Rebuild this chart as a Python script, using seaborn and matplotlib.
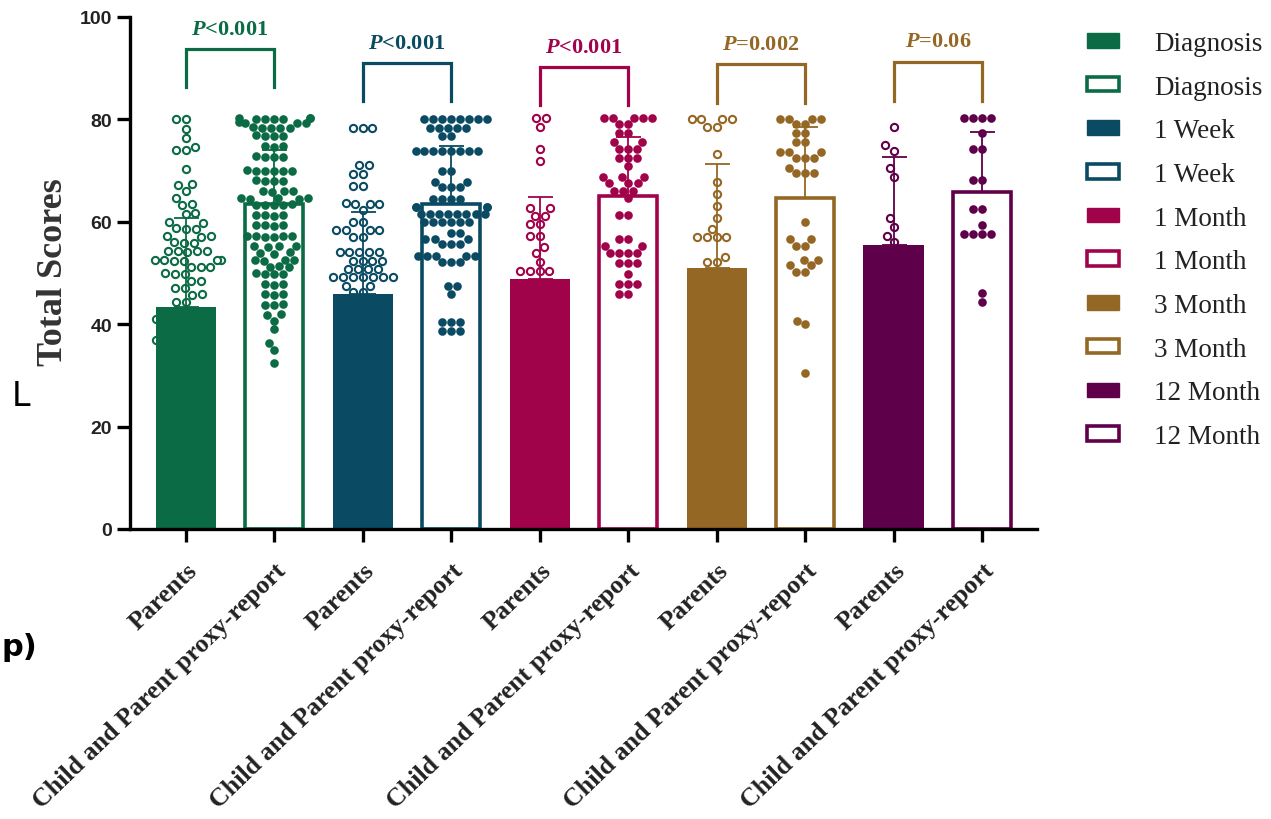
import numpy as np
import pandas as pd
import matplotlib.pyplot as plt
import seaborn as sns
from matplotlib.patches import Patch

plt.rcParams['mathtext.fontset'] = 'custom'
plt.rcParams['mathtext.it'] = 'Liberation Serif:italic:bold'
plt.rcParams['mathtext.rm'] = 'Liberation Serif:bold'

timepoints = ["Diagnosis", "1 Week", "1 Month", "3 Month", "12 Month"]
raters = ["Parents", "Child and Parent proxy-report"]
colors = ["#0b6b45", "#0a4b63", "#a1034b", "#946724", "#5f004a"]

# bar heights (mean) and upper SD
mean_parents = [43.4, 45.9, 48.8, 50.9, 55.5]
sd_parents = [17.3, 16.1, 16.1, 20.4, 17.2]
mean_proxy = [63.5, 63.5, 65.0, 64.6, 65.8]
sd_proxy = [10.5, 11.2, 11.6, 14.0, 11.8]

p_text = ["<0.001", "<0.001", "<0.001", "=0.002", "=0.06"]
p_color = ["#0b6b45", "#0a4b63", "#a1034b", "#946724", "#946724"]
bracket_top = [93.7, 91.0, 90.2, 90.8, 91.3]
bracket_leg = [86.3, 83.6, 82.8, 83.2, 83.6]

# individual scores (visible points)
diag_parents = [80.1, 80.1, 78.2, 76.3, 74.6, 74.0, 74.0, 70.4, 67.4, 67.2, 66.0, 64.6,
                63.4, 63.2, 61.7, 61.5, 60.0, 59.8, 58.7, 58.6, 58.5, 57.3, 57.2, 57.1,
                56.0, 55.9, 55.8, 54.3, 54.3, 54.2, 54.2, 54.1, 52.6, 52.6,
                52.5, 52.5, 52.4, 52.4, 51.2, 51.2, 51.1, 49.9, 49.8, 49.7,
                48.5, 48.4, 47.1, 47.0, 45.8, 45.7, 44.4, 44.3, 41.0, 41.0, 41.0, 41.0,
                41.0, 41.0, 37.0, 37.0, 37.0, 37.0, 37.0, 37.0]
diag_proxy = [80.3, 80.2, 80.2, 80.1, 80.1, 80.0, 80.0, 79.4, 79.3, 79.2, 79.2, 78.5,
              78.4, 78.4, 78.3, 78.3, 76.9, 76.8, 76.7, 76.7, 74.8, 74.7, 74.6, 72.8,
              72.7, 72.7, 72.6, 70.1, 70.0, 70.0, 70.0, 69.9, 69.9, 68.1, 68.0, 68.0,
              67.9, 66.1, 66.0, 66.0, 65.9, 64.7, 64.6, 64.6, 64.5, 64.5, 63.4, 63.3,
              63.3, 63.2, 63.2, 61.4, 61.3, 61.3, 61.2, 59.4, 59.3, 59.3, 59.2, 57.3,
              57.2, 57.2, 57.2, 57.1, 57.1, 55.3, 55.2, 55.2, 55.1, 54.0, 53.9, 53.8,
              52.6, 52.5, 52.5, 52.4, 51.3, 51.2, 51.1, 49.9, 49.8, 49.8, 49.7, 47.9,
              47.8, 47.7, 45.9, 45.8, 45.7, 43.9, 43.8, 43.7, 41.9, 41.8, 40.7, 39.0,
              36.4, 35.0, 32.5]
week_parents = [78.4, 78.4, 78.4, 71.0, 71.0, 69.3, 69.3, 67.0, 67.0, 63.6, 63.5, 63.5,
                63.4, 62.2, 60.0, 60.0, 58.3, 58.3, 58.3, 58.3, 57.0, 57.0, 54.1, 54.1,
                54.1, 54.1, 54.1, 52.4, 52.4, 52.4, 52.4, 50.8, 50.8, 50.8, 50.8, 49.2,
                49.2, 49.2, 49.2, 49.2, 49.2, 49.2, 47.5, 47.5, 46.2, 46.2, 43.0, 43.0,
                40.0, 40.0]
week_proxy = [80.0, 80.0, 80.0, 80.0, 80.0, 80.0, 80.0, 80.0, 78.4, 78.4, 78.4, 78.4,
              78.4, 76.8, 76.8, 73.9, 73.9, 73.9, 73.9, 73.9, 73.9, 73.9, 73.9, 70.0,
              70.0, 67.7, 67.7, 66.7, 66.7, 66.7, 64.5, 64.5, 64.5, 64.5, 62.8, 62.8,
              62.8, 62.8, 61.5, 61.5, 61.5, 61.5, 61.5, 61.5, 61.5, 61.5, 59.9, 59.9,
              59.9, 59.9, 59.9, 59.9, 57.9, 57.9, 56.6, 56.6, 56.6, 55.7, 55.7, 55.7,
              53.4, 53.4, 53.4, 53.4, 53.4, 52.1, 52.1, 52.1, 47.5, 47.5, 45.9, 40.4,
              40.4, 40.4, 38.7, 38.7, 38.7]
month1_parents = [80.3, 80.3, 78.6, 74.2, 71.9, 62.7, 62.7, 61.2, 61.2, 59.6, 59.6, 57.3,
                  57.3, 55.0, 53.9, 52.2, 50.3, 50.3, 50.3, 50.3, 46.0, 44.0, 42.0]
month1_proxy = [80.3, 80.3, 80.3, 80.3, 80.3, 79.0, 79.0, 77.3, 77.3, 75.6, 75.6, 74.2,
                74.2, 74.2, 72.5, 72.5, 72.5, 70.8, 68.8, 68.8, 68.8, 67.5, 67.5, 67.5,
                66.1, 66.1, 66.1, 64.7, 61.4, 61.4, 56.6, 56.6, 55.3, 55.3, 53.9, 53.9,
                53.9, 53.9, 51.9, 51.9, 51.9, 49.8, 47.8, 47.8, 47.8, 45.8, 45.8]
month3_parents = [80.0, 80.0, 80.0, 80.0, 78.5, 78.5, 73.2, 67.8, 65.4, 63.0, 60.7, 58.6,
                  57.0, 57.0, 57.0, 57.0, 53.2, 52.2, 52.2, 48.0, 45.0]
month3_proxy = [80.0, 80.0, 80.0, 80.0, 79.0, 79.0, 77.3, 77.3, 75.6, 75.6, 73.6, 73.6,
                73.6, 72.5, 72.5, 72.5, 70.5, 69.5, 69.5, 69.5, 60.0, 56.6, 56.6, 55.3,
                55.3, 52.5, 52.5, 51.5, 51.5, 50.2, 50.2, 40.7, 40.0, 30.5]
month12_parents = [78.6, 74.9, 73.9, 70.5, 68.8, 60.7, 59.0, 57.3, 56.0]
month12_proxy = [80.3, 80.3, 80.3, 80.3, 77.3, 74.2, 74.2, 68.1, 68.1, 62.4, 62.4, 59.3,
                 57.6, 57.6, 57.6, 57.6, 46.1, 44.4]

scores_parents = [diag_parents, week_parents, month1_parents, month3_parents, month12_parents]
scores_proxy = [diag_proxy, week_proxy, month1_proxy, month3_proxy, month12_proxy]

# long tables
order = [f"{tp}|{r}" for tp in timepoints for r in raters]
rows = []
for tp, a, b in zip(timepoints, scores_parents, scores_proxy):
    rows += [(f"{tp}|{raters[0]}", tp, raters[0], v) for v in a]
    rows += [(f"{tp}|{raters[1]}", tp, raters[1], v) for v in b]
points = pd.DataFrame(rows, columns=["group", "time", "rater", "score"])

bars = pd.DataFrame({
    "group": order,
    "time": [tp for tp in timepoints for r in raters],
    "rater": raters * len(timepoints),
    "mean": [m for pair in zip(mean_parents, mean_proxy) for m in pair],
    "sd": [s for pair in zip(sd_parents, sd_proxy) for s in pair],
})
pal = dict(zip(timepoints, colors))

fig = plt.figure(figsize=(12.71, 8.2), dpi=100)
ax = fig.add_axes([0.1023, 0.3537, 0.7135, 0.6244])

# open points for parents sit behind the filled bars
for tp in timepoints:
    sub = points[(points.time == tp) & (points.rater == raters[0])]
    sns.swarmplot(data=sub, x="group", y="score", order=order, color="white",
                  edgecolor=pal[tp], linewidth=1.5, size=5.2, ax=ax, zorder=1,
                  warn_thresh=1)

par = bars[bars.rater == raters[0]]
sns.barplot(data=par, x="group", y="mean", order=order, hue="time", palette=pal,
            saturation=1, width=0.68, errorbar=None, legend=False, ax=ax, zorder=2)

prx = bars[bars.rater == raters[1]]
sns.barplot(data=prx, x="group", y="mean", order=order, hue="time", palette=pal,
            saturation=1, width=0.65, errorbar=None, fill=False, linewidth=2.6,
            legend=False, ax=ax, zorder=2)

for tp in timepoints:
    sub = points[(points.time == tp) & (points.rater == raters[1])]
    sns.swarmplot(data=sub, x="group", y="score", order=order, color=pal[tp],
                  linewidth=0, size=6.2, ax=ax, zorder=3, warn_thresh=1)

# upper SD whiskers
for _, r in bars.iterrows():
    pos = order.index(r["group"])
    ax.errorbar(pos, r["mean"], yerr=[[0], [r["sd"]]], fmt="none",
                ecolor=pal[r["time"]], elinewidth=1.3, capsize=9, capthick=1.3,
                zorder=4)

# significance brackets
for i, tp in enumerate(timepoints):
    x0 = order.index(f"{tp}|{raters[0]}")
    x1 = order.index(f"{tp}|{raters[1]}")
    ax.plot([x0, x0, x1, x1], [bracket_leg[i], bracket_top[i], bracket_top[i], bracket_leg[i]],
            color=p_color[i], lw=2.3, clip_on=False, solid_joinstyle="miter")
    ax.text((x0 + x1) / 2, bracket_top[i] + 2.0, r"$P$" + p_text[i], ha="center",
            va="bottom", fontsize=16, fontweight="bold", family="Liberation Serif",
            color=p_color[i])

ax.set_xlim(-0.63, 9.62)
ax.set_ylim(0, 100)
ax.set_yticks([0, 20, 40, 60, 80, 100])
ax.set_yticklabels(["0", "20", "40", "60", "80", "100"], fontsize=14,
                   fontweight="bold", family="Liberation Sans", color="#222222")
ax.set_xticks(range(len(order)))
ax.set_xticklabels([g.split("|")[1] for g in order], rotation=44, ha="right",
                   va="top", rotation_mode="anchor", fontsize=18.6,
                   fontweight="bold", family="Liberation Serif", color="#222222")
ax.set_xlabel("")
ax.set_ylabel("Total Scores", fontsize=26, fontweight="bold", family="Liberation Serif",
              color="#333333")
ax.yaxis.set_label_coords(-0.066, 0.504)

for s in ["top", "right"]:
    ax.spines[s].set_visible(False)
for s in ["left", "bottom"]:
    ax.spines[s].set_linewidth(2.4)
ax.tick_params(axis="both", direction="out", length=9.5, width=2.4, color="black")
ax.tick_params(axis="x", pad=12)

handles, labels = [], []
for tp, c in zip(timepoints, colors):
    handles.append(Patch(facecolor=c, edgecolor=c, linewidth=1))
    labels.append(tp)
    handles.append(Patch(facecolor="white", edgecolor=c, linewidth=2.6))
    labels.append(tp)
fig.legend(handles, labels, loc="upper left", bbox_to_anchor=(1087 / 1271, 0.961),
           frameon=False, prop={"family": "Liberation Serif", "size": 19.5},
           labelcolor="#222222", handlelength=1.18, handleheight=0.45,
           handletextpad=1.3, labelspacing=0.69, borderaxespad=0, borderpad=0)

# text fragments at the left edge of the original
fig.text(0.009, 0.516, "L", fontsize=24, family="DejaVu Sans", va="center")
fig.text(0.001, 0.21, "p)", fontsize=22, family="DejaVu Sans", fontweight="bold",
         va="center")

fig.savefig("out.png", dpi=100)
